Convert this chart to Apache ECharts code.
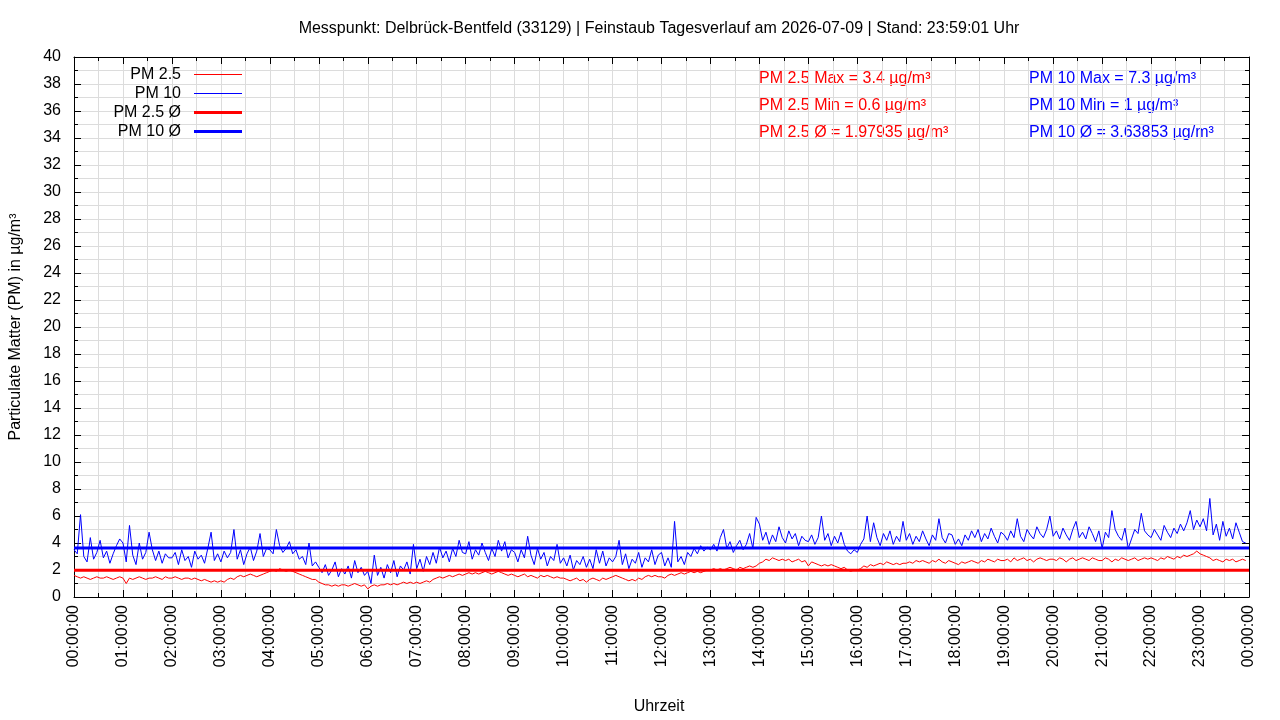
<!DOCTYPE html>
<html>
<head>
<meta charset="utf-8">
<script src="https://cdn.jsdelivr.net/npm/echarts@6/dist/echarts.min.js"></script>
<style>html,body{margin:0;padding:0;background:#fff}#c{width:1280px;height:720px}</style>
</head>
<body>
<div id="c"></div>
<script>
// ---- data (one reading every 4 minutes) ----
const STEP_MIN = 4;
const pm25 = [
1.6,1.5,1.4,1.5,1.4,1.3,1.4,1.5,1.4,1.4,1.5,1.4,1.3,1.4,1.5,
1.4,1.0,1.4,1.3,1.4,1.5,1.4,1.3,1.4,1.4,1.5,1.4,1.3,1.5,1.4,
1.4,1.5,1.4,1.3,1.4,1.4,1.3,1.4,1.3,1.2,1.3,1.2,1.1,1.2,1.1,
1.2,1.1,1.3,1.4,1.3,1.5,1.6,1.5,1.6,1.7,1.6,1.5,1.6,1.7,1.8,
1.9,2.0,1.9,2.1,2.0,1.9,2.0,1.9,1.8,1.7,1.6,1.5,1.4,1.3,1.3,
1.1,1.0,0.9,0.9,0.8,0.9,0.8,0.9,0.9,0.8,0.9,1.0,0.9,0.8,0.9,
0.6,0.8,0.9,0.8,0.9,0.9,1.0,0.9,1.0,0.9,1.0,1.1,1.0,1.1,1.0,
1.1,1.0,1.1,1.2,1.1,1.3,1.4,1.5,1.4,1.5,1.6,1.5,1.6,1.7,1.6,
1.7,1.8,1.7,1.8,1.7,1.8,1.9,1.8,1.7,1.8,1.9,1.8,1.7,1.6,1.7,
1.6,1.5,1.6,1.7,1.5,1.6,1.5,1.4,1.6,1.5,1.6,1.5,1.4,1.5,1.4,
1.4,1.3,1.2,1.3,1.4,1.2,1.3,1.1,1.3,1.4,1.3,1.2,1.4,1.3,1.4,
1.5,1.6,1.5,1.4,1.3,1.2,1.3,1.2,1.4,1.3,1.5,1.6,1.5,1.6,1.5,
1.5,1.4,1.6,1.7,1.6,1.7,1.8,1.7,1.8,1.9,1.8,1.9,1.8,1.9,2.0,
2.0,2.1,2.0,2.1,2.0,2.1,2.2,2.1,2.0,2.2,2.1,2.2,2.3,2.2,2.3,
2.5,2.6,2.8,2.7,2.9,2.8,2.7,2.8,2.7,2.8,2.6,2.7,2.8,2.6,2.7,
2.3,2.6,2.5,2.4,2.3,2.4,2.3,2.4,2.3,2.2,2.1,2.2,2.0,1.9,2.0,
2.0,2.1,2.3,2.2,2.4,2.3,2.4,2.5,2.4,2.6,2.5,2.4,2.5,2.4,2.5,
2.5,2.6,2.5,2.7,2.6,2.7,2.6,2.5,2.7,2.6,2.8,2.6,2.5,2.7,2.6,
2.5,2.4,2.6,2.5,2.6,2.7,2.6,2.5,2.7,2.6,2.8,2.7,2.6,2.8,2.7,
2.7,2.8,2.6,2.9,2.7,2.8,2.9,2.7,2.8,2.6,2.8,2.9,2.8,2.7,2.8,
2.8,2.7,2.9,2.8,2.6,2.8,2.9,2.7,2.8,2.9,2.8,2.7,2.9,2.8,2.7,
2.7,2.9,2.8,2.6,2.8,2.7,2.9,2.8,2.7,2.8,2.9,2.7,2.8,2.9,2.8,
2.9,2.8,2.7,2.9,2.8,3.0,2.9,2.8,3.0,2.9,3.1,3.0,3.1,3.2,3.4,
3.2,3.1,3.0,2.9,2.7,2.8,2.7,2.6,2.8,2.7,2.8,2.6,2.7,2.8,2.7
];
const pm10 = [
3.5,3.2,6.1,3.0,2.6,4.4,2.8,3.3,4.2,2.9,3.4,2.5,3.2,3.8,4.3,
4.0,2.6,5.3,3.1,2.4,4.0,2.8,3.3,4.8,3.5,2.7,3.4,2.5,3.2,2.9,
2.9,3.3,2.4,3.5,2.7,3.0,2.2,3.4,2.8,3.1,2.5,3.6,4.8,2.7,3.2,
2.6,3.4,2.9,3.3,5.0,2.8,3.5,2.4,3.2,3.7,2.7,3.4,4.7,3.0,3.6,
3.5,3.2,5.0,3.8,3.3,3.6,4.1,3.2,3.5,2.8,3.0,2.4,4.0,2.3,2.6,
2.2,1.8,2.4,1.6,2.0,2.6,1.5,2.1,1.7,2.3,1.4,2.7,1.8,2.2,1.6,
1.9,1.0,3.1,1.6,2.2,1.4,2.4,1.8,2.7,1.5,2.3,2.0,2.6,1.7,3.9,
2.1,2.8,1.9,3.0,2.4,3.3,2.5,3.7,2.9,3.4,2.6,3.6,3.0,4.2,3.3,
3.2,4.1,2.8,3.5,3.1,4.0,3.3,2.7,3.6,3.0,4.2,3.4,4.1,2.9,3.5,
3.3,2.6,3.5,2.9,4.5,3.1,2.4,3.6,2.8,3.3,2.3,3.0,2.7,3.9,2.5,
2.9,2.3,3.1,2.0,2.7,2.4,3.0,2.2,2.8,2.1,3.5,2.5,3.4,2.3,2.9,
2.6,3.0,4.2,2.4,3.2,2.1,2.8,2.5,3.3,2.2,2.9,2.6,3.5,2.4,3.1,
3.3,2.3,2.9,2.2,5.6,2.6,3.0,2.4,3.3,3.0,3.6,3.2,3.8,3.4,3.7,
3.5,3.9,3.4,4.4,5.0,3.6,4.1,3.3,3.8,4.2,3.5,3.9,4.7,3.6,5.9,
5.4,4.2,4.8,3.9,4.6,4.1,5.2,4.4,4.0,4.9,4.3,4.7,3.8,4.5,4.2,
4.1,4.6,3.9,4.4,6.0,4.2,4.7,3.8,4.5,4.0,4.8,3.9,3.4,3.2,3.5,
3.3,3.9,4.3,6.0,4.1,5.5,4.4,3.8,4.7,4.2,4.9,3.9,4.5,4.1,5.6,
4.2,4.7,3.9,4.5,4.1,4.9,4.3,3.8,4.6,4.2,5.8,4.4,4.0,4.7,4.6,
3.9,4.3,3.8,4.6,4.2,4.9,4.4,5.0,4.1,4.7,4.3,5.1,4.5,4.0,4.8,
4.6,4.2,4.9,4.4,5.8,4.5,4.1,5.0,4.6,4.3,5.2,4.7,4.4,5.0,6.0,
4.5,4.9,4.3,5.1,4.6,4.2,5.0,5.6,4.4,4.8,4.3,5.2,4.7,4.1,4.9,
3.6,4.8,4.4,6.4,5.0,4.5,4.2,5.1,3.6,4.3,5.0,4.7,6.2,4.9,4.6,
4.4,5.0,4.6,4.2,5.3,4.8,4.4,5.1,4.7,5.4,4.9,5.5,6.4,5.0,5.7,
5.2,5.8,4.9,7.3,4.6,5.4,4.2,5.6,4.5,5.1,4.3,5.5,4.8,4.1,4.0
];
const PM25_MEAN = 1.97935, PM25_MAX = 3.4, PM25_MIN = 0.6;
const PM10_MEAN = 3.63853, PM10_MAX = 7.3, PM10_MIN = 1;
const seriesNames = ['PM 2.5', 'PM 10', 'PM 2.5 Ø', 'PM 10 Ø'];
const titleText = 'Messpunkt: Delbrück-Bentfeld (33129) | Feinstaub Tagesverlauf am 2026-07-09 | Stand: 23:59:01 Uhr';
const xName = 'Uhrzeit';
const yName = 'Particulate Matter (PM) in µg/m³';

const toPairs = arr => arr.map((v, i) => [i * STEP_MIN / 60, v]);
const pad = n => (n < 10 ? '0' : '') + n;
const FONT = 'Liberation Sans, Arial, sans-serif';
const GRIDC = '#dcdcdc';

const chart = echarts.init(document.getElementById('c'));
const baseX = {
  type: 'value', min: 0, max: 24, interval: 1,
  axisLine: { show: true, onZero: false, lineStyle: { color: '#000', width: 1 } },
  axisTick: { show: true, inside: true, length: 7, lineStyle: { color: '#000' } },
  minorTick: { show: true, splitNumber: 2, length: 4, lineStyle: { color: '#000' } }
};
const baseY = {
  type: 'value', min: 0, max: 40, interval: 2,
  axisLine: { show: true, onZero: false, lineStyle: { color: '#000', width: 1 } },
  axisTick: { show: true, inside: true, length: 7, lineStyle: { color: '#000' } },
  minorTick: { show: true, splitNumber: 2, length: 4, lineStyle: { color: '#000' } }
};
const txt = (x, y, text, fill, extra) => ({ type: 'text', x: x, y: y + 2, silent: true,
  style: Object.assign({ text: text, fill: fill, font: '16px ' + FONT, textVerticalAlign: 'middle' }, extra || {}) });
chart.setOption({
  animation: false,
  backgroundColor: '#fff',
  textStyle: { fontFamily: FONT },
  grid: { left: 74, right: 31, top: 57, bottom: 123 },
  legend: {
    data: [
      { name: seriesNames[0], lineStyle: { width: 1 } },
      { name: seriesNames[1], lineStyle: { width: 1 } },
      { name: seriesNames[2], lineStyle: { width: 3 } },
      { name: seriesNames[3], lineStyle: { width: 3 } }
    ],
    orient: 'vertical', left: 75, top: 60,
    align: 'right', itemWidth: 48, itemHeight: 14, itemGap: 0,
    itemStyle: { opacity: 0, borderWidth: 0 },
    textStyle: { fontSize: 16, lineHeight: 19, color: '#000', fontFamily: FONT, width: 101, align: 'right', padding: [0, 8, 0, 0] }
  },
  xAxis: [
    Object.assign({}, baseX, {
      position: 'bottom',
      splitLine: { show: true, lineStyle: { color: GRIDC, width: 1 } },
      minorSplitLine: { show: true, lineStyle: { color: GRIDC, width: 1 } },
      axisLabel: { rotate: 90, margin: 8, fontSize: 16, color: '#000', fontFamily: FONT,
        formatter: v => pad(Math.round(v) % 24) + ':00:00' }
    }),
    Object.assign({}, baseX, { position: 'top', splitLine: { show: false }, axisLabel: { show: false } })
  ],
  yAxis: [
    Object.assign({}, baseY, {
      position: 'left',
      splitLine: { show: true, lineStyle: { color: GRIDC, width: 1 } },
      minorSplitLine: { show: true, lineStyle: { color: GRIDC, width: 1 } },
      axisLabel: { margin: 13, fontSize: 16, color: '#000', fontFamily: FONT }
    }),
    Object.assign({}, baseY, { position: 'right', splitLine: { show: false }, axisLabel: { show: false } })
  ],
  series: [
    { name: seriesNames[0], type: 'line', data: toPairs(pm25), symbol: 'none',
      lineStyle: { color: '#ff0000', width: 1 }, itemStyle: { color: '#ff0000' } },
    { name: seriesNames[1], type: 'line', data: toPairs(pm10), symbol: 'none',
      lineStyle: { color: '#0000ff', width: 1 }, itemStyle: { color: '#0000ff' } },
    { name: seriesNames[2], type: 'line', data: [[0, PM25_MEAN], [24, PM25_MEAN]], symbol: 'none',
      lineStyle: { color: '#ff0000', width: 3 }, itemStyle: { color: '#ff0000' } },
    { name: seriesNames[3], type: 'line', data: [[0, PM10_MEAN], [24, PM10_MEAN]], symbol: 'none',
      lineStyle: { color: '#0000ff', width: 3 }, itemStyle: { color: '#0000ff' } }
  ],
  graphic: [
    txt(659, 27, titleText, '#000', { textAlign: 'center' }),
    txt(759, 77, 'PM 2.5 Max = ' + PM25_MAX + ' µg/m³', '#ff0000'),
    txt(759, 104, 'PM 2.5 Min = ' + PM25_MIN + ' µg/m³', '#ff0000'),
    txt(759, 131, 'PM 2.5 Ø = ' + PM25_MEAN + ' µg/m³', '#ff0000'),
    txt(1029, 77, 'PM 10 Max = ' + PM10_MAX + ' µg/m³', '#0000ff'),
    txt(1029, 104, 'PM 10 Min = ' + PM10_MIN + ' µg/m³', '#0000ff'),
    txt(1029, 131, 'PM 10 Ø = ' + PM10_MEAN + ' µg/m³', '#0000ff'),
    txt(659, 705, xName, '#000', { textAlign: 'center' }),
    Object.assign(txt(14, 327, yName, '#000', { textAlign: 'center' }), { rotation: Math.PI / 2, x: 16, y: 327 })
  ]
});
</script>
</body>
</html>
